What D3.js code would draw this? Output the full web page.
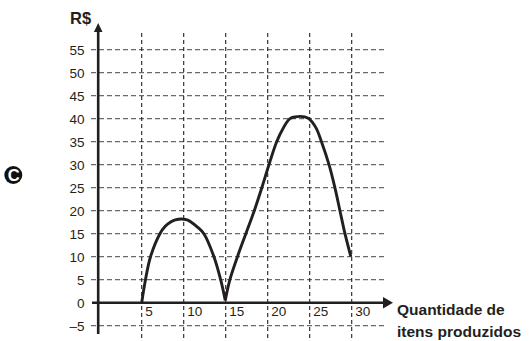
<!DOCTYPE html>
<html><head><meta charset="utf-8">
<script src="https://cdn.jsdelivr.net/npm/d3@7"></script>
<style>
body{margin:0;background:#fff;}
svg{display:block;font-family:"Liberation Sans",Arial,sans-serif;}
</style></head>
<body>
<svg id="c" width="529" height="341"></svg>
<script>
// Data
const xTicks = [5, 10, 15, 20, 25, 30];
const yTicks = [-5, 0, 5, 10, 15, 20, 25, 30, 35, 40, 45, 50, 55];
const yTickLabels = ["\u20135","0","5","10","15","20","25","30","35","40","45","50","55"];
// first arch (x: itens, y: R$)
const arch1X = [5, 5.45, 6.05, 7.17, 7.8, 8.4, 9.0, 9.7, 10.4, 10.9, 11.6, 12.4, 13.6, 14.4, 14.95];
const arch1Y = [0, 5, 10, 15, 16.6, 17.5, 18.0, 18.2, 18.0, 17.5, 16.5, 15, 10, 5, 0.5];
// second arch
const arch2X = [14.95, 15.5, 16.4, 17.4, 18.4, 19.3, 20.15, 21.07, 21.86, 22.65, 23.3, 23.85, 24.4, 24.9, 25.75, 26.4, 27.3, 28.0, 28.6, 29.2, 29.9];
const arch2Y = [0.5, 5, 10, 15, 20, 25, 30, 35, 38, 40, 40.4, 40.5, 40.4, 40, 38, 35, 30, 25, 20, 15, 10];
const yTitle = "R$";
const xTitle = ["Quantidade de", "itens produzidos"];
const badge = "C";

const svg = d3.select("#c");
const x = d3.scaleLinear().domain([0, 30]).range([99.7, 351.7]);
const y = d3.scaleLinear().domain([0, 55]).range([302.7, 49.7]);

// horizontal grid
svg.append("g").selectAll("line").data(yTicks.filter(d => d !== 0)).join("line")
  .attr("x1", 91).attr("x2", 384)
  .attr("y1", d => y(d)).attr("y2", d => y(d))
  .attr("stroke", "#6a6a6a").attr("stroke-width", 1.2)
  .attr("stroke-dasharray", "5,3");

// vertical grid
svg.append("g").selectAll("line").data(xTicks).join("line")
  .attr("x1", d => x(d)).attr("x2", d => x(d))
  .attr("y1", 33).attr("y2", 341)
  .attr("stroke", "#222").attr("stroke-width", 1.1)
  .attr("stroke-dasharray", "4,3");

// axes
const axCol = "#231f20";
svg.append("line").attr("x1", x(0) - 1.5).attr("x2", x(0) - 1.5).attr("y1", 334).attr("y2", 30)
  .attr("stroke", axCol).attr("stroke-width", 2.6);
svg.append("path")
  .attr("d", `M${x(0)-1.5},23 L${x(0)-5.8},32 L${x(0)+2.8},32 Z`).attr("fill", axCol);
svg.append("line").attr("x1", 92).attr("x2", 385).attr("y1", y(0)).attr("y2", y(0))
  .attr("stroke", axCol).attr("stroke-width", 2.4);
svg.append("path")
  .attr("d", `M393,${y(0)} L383,${y(0)-5.8} L383,${y(0)+5.8} Z`).attr("fill", axCol);

// y tick labels
svg.append("g").selectAll("text").data(yTicks).join("text")
  .attr("x", 84.5).attr("y", d => y(d) + 4.8)
  .attr("text-anchor", "end").attr("font-size", 13.5).attr("fill", "#231f20")
  .text((d, i) => yTickLabels[i]);

// x tick labels
svg.append("g").selectAll("text").data(xTicks).join("text")
  .attr("x", d => x(d) + 3.5).attr("y", 316)
  .attr("font-size", 13.5).attr("fill", "#231f20")
  .text(d => d);

// curves
const line = d3.line().x(d => x(d[0])).y(d => y(d[1])).curve(d3.curveCatmullRom.alpha(0.5));
const p1 = arch1X.map((v, i) => [v, arch1Y[i]]);
const p2 = arch2X.map((v, i) => [v, arch2Y[i]]);
[p1, p2].forEach(p => svg.append("path").attr("d", line(p))
  .attr("fill", "none").attr("stroke", "#231f20").attr("stroke-width", 2.9)
  .attr("stroke-linejoin", "round"));

// titles
svg.append("text").attr("x", 70).attr("y", 24).attr("font-size", 16.5)
  .attr("font-weight", "bold").attr("fill", "#231f20").text(yTitle);
svg.append("g").selectAll("text").data(xTitle).join("text")
  .attr("x", 397).attr("y", (d, i) => 315 + i * 22)
  .attr("font-size", 15.5).attr("font-weight", "bold").attr("fill", "#231f20")
  .text(d => d);

// badge
svg.append("circle").attr("cx", 13.3).attr("cy", 175).attr("r", 9).attr("fill", "#111");
svg.append("text").attr("x", 13.8).attr("y", 180.8).attr("text-anchor", "middle")
  .attr("font-size", 16.5).attr("font-weight", "900").attr("fill", "#fff").text(badge);
</script>
</body></html>
